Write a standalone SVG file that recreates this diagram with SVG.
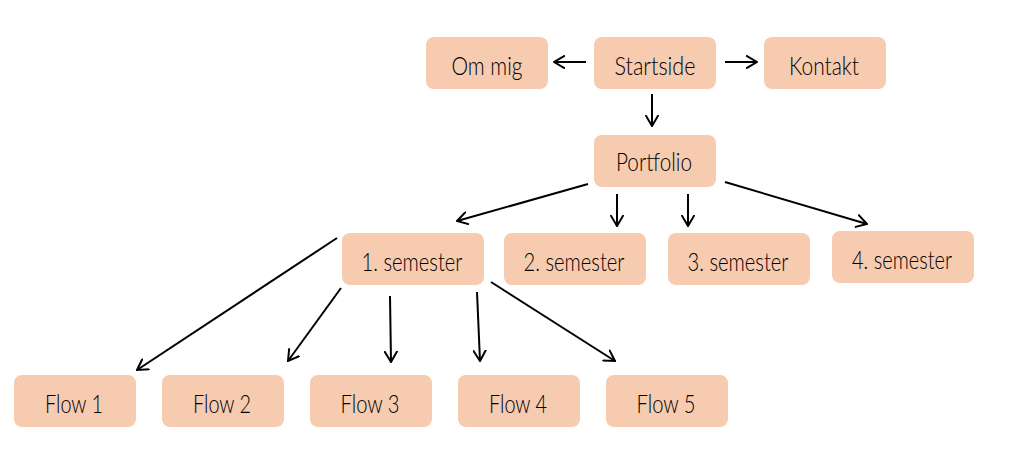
<svg xmlns="http://www.w3.org/2000/svg" width="1024" height="462" viewBox="0 0 1024 462">
<style>
.box{fill:#F6CBB0}
.lbl{font-family:"Lato","Liberation Sans",sans-serif;font-size:25px;font-weight:300;fill:#000;text-anchor:middle}
.edge{stroke:#000;stroke-width:2;fill:none;marker-end:url(#ah)}
</style>
<defs>
<marker id="ah" viewBox="0 0 12 14" refX="11" refY="7" markerWidth="12" markerHeight="14" markerUnits="userSpaceOnUse" orient="auto">
<path d="M0,0.5 L11,7 L0,13.5" stroke="#000" stroke-width="2" fill="none"/>
</marker>
</defs>
<rect width="1024" height="462" fill="#fff"/>
<g id="ommig"><rect class="box" x="426" y="37" width="122" height="52" rx="8"/><text class="lbl" x="487" y="75" textLength="71" lengthAdjust="spacingAndGlyphs">Om mig</text></g>
<g id="startside"><rect class="box" x="594" y="37" width="122" height="52" rx="8"/><text class="lbl" x="655" y="75" textLength="81" lengthAdjust="spacingAndGlyphs">Startside</text></g>
<g id="kontakt"><rect class="box" x="764" y="37" width="122" height="52" rx="8"/><text class="lbl" x="824" y="75" textLength="70" lengthAdjust="spacingAndGlyphs">Kontakt</text></g>
<g id="portfolio"><rect class="box" x="594" y="135" width="122" height="52" rx="8"/><text class="lbl" x="654" y="171" textLength="76" lengthAdjust="spacingAndGlyphs">Portfolio</text></g>
<g id="sem1"><rect class="box" x="342" y="233" width="142" height="52" rx="8"/><text class="lbl" x="412" y="271" textLength="101" lengthAdjust="spacingAndGlyphs">1. semester</text></g>
<g id="sem2"><rect class="box" x="504" y="233" width="142" height="52" rx="8"/><text class="lbl" x="574" y="271" textLength="101" lengthAdjust="spacingAndGlyphs">2. semester</text></g>
<g id="sem3"><rect class="box" x="668" y="233" width="142" height="52" rx="8"/><text class="lbl" x="738" y="271" textLength="101" lengthAdjust="spacingAndGlyphs">3. semester</text></g>
<g id="sem4"><rect class="box" x="832" y="231" width="142" height="52" rx="8"/><text class="lbl" x="902" y="269" textLength="100" lengthAdjust="spacingAndGlyphs">4. semester</text></g>
<g id="flow1"><rect class="box" x="14" y="375" width="122" height="52" rx="8"/><text class="lbl" x="74" y="413" textLength="58" lengthAdjust="spacingAndGlyphs">Flow 1</text></g>
<g id="flow2"><rect class="box" x="162" y="375" width="122" height="52" rx="8"/><text class="lbl" x="222" y="413" textLength="58" lengthAdjust="spacingAndGlyphs">Flow 2</text></g>
<g id="flow3"><rect class="box" x="310" y="375" width="122" height="52" rx="8"/><text class="lbl" x="370" y="413" textLength="59" lengthAdjust="spacingAndGlyphs">Flow 3</text></g>
<g id="flow4"><rect class="box" x="458" y="375" width="122" height="52" rx="8"/><text class="lbl" x="518" y="413" textLength="58" lengthAdjust="spacingAndGlyphs">Flow 4</text></g>
<g id="flow5"><rect class="box" x="606" y="375" width="122" height="52" rx="8"/><text class="lbl" x="666" y="413" textLength="59" lengthAdjust="spacingAndGlyphs">Flow 5</text></g>
<g id="connectors">
<line class="edge" x1="586" y1="62" x2="554" y2="62"/>
<line class="edge" x1="725" y1="62" x2="757" y2="62"/>
<line class="edge" x1="652" y1="94" x2="652" y2="126"/>
<line class="edge" x1="588" y1="184" x2="457" y2="221"/>
<line class="edge" x1="617" y1="194" x2="617" y2="226"/>
<line class="edge" x1="688" y1="194" x2="688" y2="226"/>
<line class="edge" x1="725" y1="182" x2="867" y2="224"/>
<line class="edge" x1="337" y1="238" x2="137" y2="370"/>
<line class="edge" x1="341" y1="288" x2="288" y2="361"/>
<line class="edge" x1="390" y1="296" x2="391" y2="362"/>
<line class="edge" x1="477" y1="292" x2="480" y2="361"/>
<line class="edge" x1="491" y1="282" x2="615" y2="361"/>
</g>
</svg>
